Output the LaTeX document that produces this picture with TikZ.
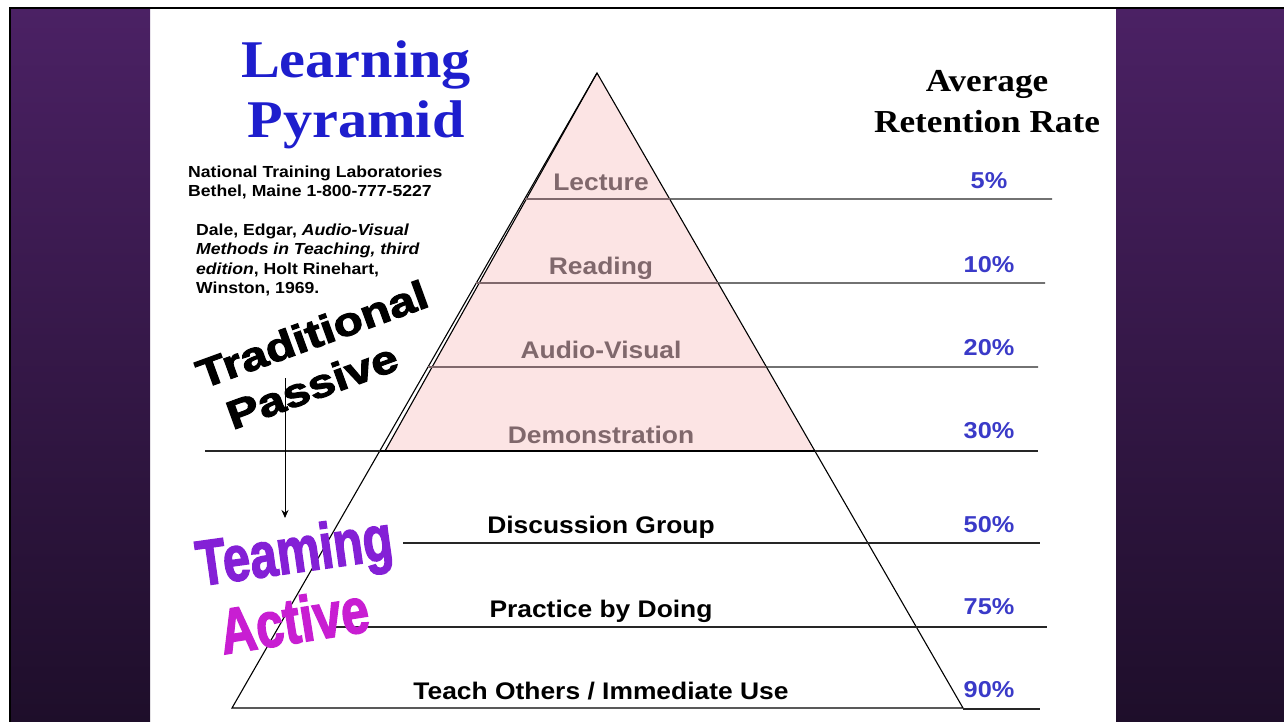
\documentclass[tikz,border=0pt]{standalone}
\usepackage{fontspec}
\setmainfont{Liberation Serif}
\newfontfamily\arial{Liberation Sans}
\newfontfamily\heavy[BoldFeatures={FakeBold=2.5}]{Liberation Sans}
\usetikzlibrary{arrows.meta,calc}

\definecolor{titleblue}{RGB}{30,30,205}
\definecolor{pctblue}{RGB}{58,58,200}
\definecolor{pinkfill}{RGB}{252,228,228}
\definecolor{bandgray}{RGB}{128,104,108}
\definecolor{paneltop}{RGB}{75,33,100}
\definecolor{panelbot}{RGB}{30,14,42}
\definecolor{teamviolet}{RGB}{132,32,214}
\definecolor{activemag}{RGB}{200,30,210}

\newcommand{\wide}[1]{\scalebox{1.1}[1]{#1}}

\begin{document}
\begin{tikzpicture}[x=1pt, y=-1pt,
  lvl/.style={anchor=base, inner sep=0pt, font=\arial\bfseries\fontsize{24}{24}\selectfont},
  pct/.style={anchor=base, inner sep=0pt, text=pctblue, font=\arial\bfseries\fontsize{23}{23}\selectfont},
  slogan/.style={inner sep=0pt, font=\heavy\bfseries\fontsize{40}{40}\selectfont},
  rule/.style={line width=1.2pt, black!85},
  bandline/.style={line width=1.2pt, bandgray}]

  \useasboundingbox (0,0) rectangle (1284,722);

  %%-- SIDE PANELS AND FRAME --%%
  \shade[top color=paneltop, bottom color=panelbot] (11,9) rectangle (150,722);
  \shade[top color=paneltop, bottom color=panelbot] (1116,9) rectangle (1284,722);
  \draw[line width=2pt] (10,722) -- (10,8) -- (1284,8);

  %%-- PYRAMID CORNERS --%%
  \coordinate (apex) at (597,73);
  \coordinate (bl) at (232,708);
  \coordinate (br) at (963,708);

  %%-- PINK UPPER TRIANGLE (passive part, down to y = 451) --%%
  \fill[pinkfill] (apex) -- (385,451) -- (814,451) -- cycle;
  \draw[line width=1.1pt] (apex) -- (385,451);

  %%-- OUTLINE OF THE WHOLE PYRAMID --%%
  \draw[line width=1.1pt] (apex) -- (bl) -- (br) -- cycle;

  %%-- BAND LINES OF THE PINK PART, with their right extensions --%%
  \foreach \t/\y/\xe in {0.1984/199/1052, 0.3307/283/1045, 0.4630/367/1038} {
    \draw[bandline] ($(apex)!\t!(bl)$) -- ($(apex)!\t!(br)$);
    \draw[rule] ($(apex)!\t!(br)$) -- (\xe,\y);
  }

  %%-- PASSIVE / ACTIVE DIVIDER (y = 451) --%%
  \draw[rule] (205,451) -- (1038,451);
  \draw[line width=1.8pt] ($(apex)!0.5953!(bl)$) -- ($(apex)!0.5953!(br)$);

  %%-- LOWER BAND LINES --%%
  \draw[rule] (403,543) -- (1040,543);
  \draw[rule] (330,627) -- (1047,627);
  \draw[rule] ($(br)+(0,1)$) -- (1040,709);

  %%-- TITLE AND SOURCES --%%
  \node[anchor=base, inner sep=0pt, text=titleblue,
        font=\bfseries\fontsize{53}{60}\selectfont] (title) at (356,78)
    {\wide{\begin{tabular}[t]{@{}c@{}}Learning\\Pyramid\end{tabular}}};
  \node[anchor=base west, inner sep=0pt,
        font=\arial\bfseries\fontsize{16}{19}\selectfont] (ntl) at (188,178)
    {\wide{\begin{tabular}[t]{@{}l@{}}National Training Laboratories\\Bethel, Maine 1-800-777-5227\end{tabular}}};
  \node[anchor=base west, inner sep=0pt,
        font=\arial\bfseries\fontsize{16}{19.5}\selectfont] (dale) at (196,235)
    {\wide{\begin{tabular}[t]{@{}l@{}}Dale, Edgar, \textit{Audio-Visual}\\
      \textit{Methods in Teaching, third}\\ \textit{edition}, Holt Rinehart,\\ Winston, 1969.\end{tabular}}};

  %%-- RIGHT HEADER --%%
  \node[anchor=base, inner sep=0pt,
        font=\bfseries\fontsize{32}{41}\selectfont] (avg) at (987,92)
    {\wide{\begin{tabular}[t]{@{}c@{}}Average\\Retention Rate\end{tabular}}};

  %%-- LEVEL LABELS --%%
  \foreach \name/\y/\txt in {lec/190/Lecture, rea/274/Reading,
                             aud/358/Audio-Visual, dem/443/Demonstration}
    \node[lvl, text=bandgray] (\name) at (601,\y) {\wide{\txt}};
  \foreach \name/\y/\txt in {dis/533/{Discussion Group}, pra/617/{Practice by Doing},
                             tea/699/{Teach Others / Immediate Use}}
    \node[lvl] (\name) at (601,\y) {\wide{\txt}};

  %%-- RETENTION RATES --%%
  \foreach \name/\y/\txt in {p5/189/5\%, p10/272/10\%, p20/355/20\%, p30/438/30\%,
                             p50/532/50\%, p75/614/75\%, p90/697/90\%}
    \node[pct] (\name) at (989,\y) {\wide{\txt}};

  %%-- TRADITIONAL PASSIVE / TEAMING ACTIVE --%%
  \node[slogan, rotate=20] (trad) at (312,334) {\scalebox{1.2}[1]{Traditional}};
  \node[slogan, rotate=20] (pass) at (312,386) {\scalebox{1.2}[1]{Passive}};
  \node[slogan, rotate=8, text=teamviolet] (team) at (295,556) {\scalebox{1.22}[1.6]{Teaming}};
  \node[slogan, rotate=9, text=activemag] (act) at (294,620) {\scalebox{1.25}[1.6]{Active}};

  %%-- ARROW FROM PASSIVE DOWN TO TEAMING --%%
  \coordinate (arrtop) at (285,378);
  \coordinate (arrtip) at (285,518);
  \draw[line width=1pt, -{Stealth[length=8pt, width=7pt]}] (arrtop) -- (arrtip);

\end{tikzpicture}
\end{document}
